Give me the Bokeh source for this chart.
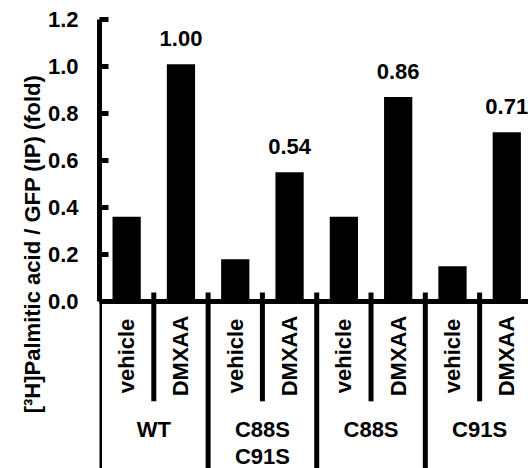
import numpy as np
from bokeh.plotting import figure
from bokeh.models import Range1d, FixedTicker, PrintfTickFormatter, Span, Title
from bokeh.core.properties import value
from bokeh.embed import file_html
from bokeh.resources import INLINE

# ---- data ----
groups = ["WT", "C88S\nC91S", "C88S", "C91S"]
treatments = ["vehicle", "DMXAA"]
vehicle_values = [0.36, 0.18, 0.36, 0.15]
dmxaa_values = [1.01, 0.55, 0.87, 0.72]
dmxaa_labels = ["1.00", "0.54", "0.86", "0.71"]
y_ticks = [0.0, 0.2, 0.4, 0.6, 0.8, 1.0, 1.2]
y_title = "[\u00b3H]Palmitic acid / GFP (IP) (fold)"

FONT = "Liberation Sans"
FS = "22px"
LW = 5

n_t = len(treatments)
n_g = len(groups)
n = n_g * n_t
bar_x = np.arange(n) + 0.5
bar_top = []
for v, d in zip(vehicle_values, dmxaa_values):
    bar_top += [v, d]
sub_labels = treatments * n_g
dmx_x = bar_x[1::n_t]
group_x = np.arange(n_g) * n_t + n_t / 2

p = figure(width=528, height=468, output_backend="svg", toolbar_location=None,
           x_range=Range1d(0, 7.9), y_range=Range1d(-0.711, 1.2),
           min_border_left=99, min_border_right=0, min_border_top=19, min_border_bottom=0)
p.outline_line_color = None
p.grid.visible = False
p.xaxis.visible = False

# bars
p.vbar(x=bar_x, top=bar_top, bottom=0, width=0.52, fill_color="black", line_color=None)

# horizontal axis line at 0
p.add_layout(Span(location=0, dimension="width", line_color="black", line_width=LW))

# separators
tick_top = 0.038
grp_b = np.arange(0, n + 1, n_t)
sub_b = np.array([g * n_t + k for g in range(n_g) for k in range(1, n_t)])
p.segment(x0=grp_b, y0=tick_top, x1=grp_b, y1=-1.0, line_color="black", line_width=LW)
p.segment(x0=sub_b, y0=tick_top, x1=sub_b, y1=-0.425, line_color="black", line_width=LW)

# value labels
p.text(x=dmx_x, y=dmxaa_values, text=dmxaa_labels, text_align="center",
       text_baseline="alphabetic", y_offset=-26,
       text_font=value(FONT), text_font_size=FS, text_font_style="bold", text_color="black")

# treatment labels
p.text(x=bar_x, y=-0.232, text=sub_labels, angle=np.pi / 2, text_align="center",
       text_baseline="middle",
       text_font=value(FONT), text_font_size=FS, text_font_style="bold", text_color="black")

# group labels
p.text(x=group_x, y=-0.49, text=groups, text_align="center", text_baseline="top",
       text_line_height=1.1,
       text_font=value(FONT), text_font_size=FS, text_font_style="bold", text_color="black")

# y axis
ya = p.yaxis[0]
ya.ticker = FixedTicker(ticks=y_ticks)
ya.formatter = PrintfTickFormatter(format="%.1f")
ya.bounds = (0, 1.2)
ya.axis_line_width = LW
ya.axis_line_color = "black"
ya.major_tick_line_width = LW
ya.major_tick_line_color = "black"
ya.major_tick_in = 9
ya.major_tick_out = 0
ya.minor_tick_line_color = None
ya.major_label_standoff = 21
ya.major_label_text_font = FONT
ya.major_label_text_font_size = FS
ya.major_label_text_font_style = "bold"
ya.major_label_text_color = "black"

# y title, placed on the left and shifted up
p.add_layout(Title(text=y_title, align="center", offset=43, standoff=0,
                   text_font=FONT, text_font_size=FS, text_font_style="bold",
                   text_color="black"), "left")

open("out.html", "w").write(file_html(p, INLINE))
